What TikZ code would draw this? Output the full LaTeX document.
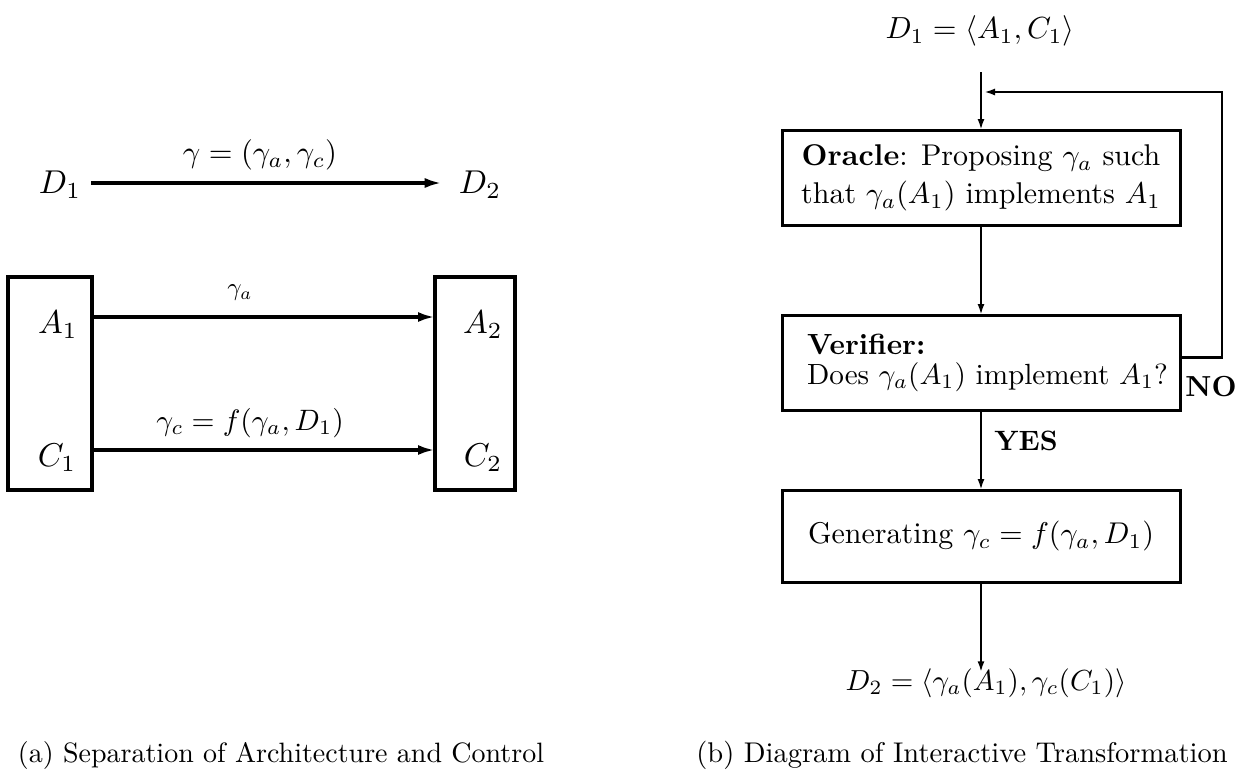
\RequirePackage{fix-cm}
\documentclass[tikz,border=0pt]{standalone}
\usetikzlibrary{arrows.meta,calc}
\newcommand\sz[2]{\scalebox{#1}{#2}}
\begin{document}
\begin{tikzpicture}[x=1pt,y=-1pt,
  txt/.style={inner sep=0pt},
  boxtxt/.style={draw,line width=3pt,minimum width=398pt,inner sep=0pt,outer sep=0pt},
  larr/.style={line width=3.8pt,-{Latex[length=17pt,width=10pt]}},
  rarr/.style={line width=2.8pt,-{Latex[length=11pt,width=7pt]}},
  lbox/.style={draw,line width=3.8pt,inner sep=0pt,outer sep=0pt}]
\useasboundingbox (0,0) rectangle (1243,774);

% ---------- (a) ----------
\node[txt] (D1) at (60,185) {\sz{3.3}{$D_1$}};
\node[txt] (D2) at (480,185) {\sz{3.3}{$D_2$}};
\node[txt] (g) at (260,155) {\sz{3.05}{$\gamma=(\gamma_a,\gamma_c)$}};
\draw[larr] ($(D1.east)+(10,-2)$) -- ($(D2.west)+(-17,-2)$);

\node[lbox,minimum width=84pt,minimum height=213pt] (L) at (50,383.5) {};
\node[lbox,minimum width=80pt,minimum height=213pt] (R) at (475,383.5) {};
\node[txt] (A1) at (58,325) {\sz{3.3}{$A_1$}};
\node[txt] (C1) at (57,458) {\sz{3.3}{$C_1$}};
\node[txt] (A2) at (483,325) {\sz{3.3}{$A_2$}};
\node[txt] (C2) at (483,458) {\sz{3.3}{$C_2$}};
\node[txt] (ga) at (240,293) {\sz{2.5}{$\gamma_a$}};
\node[txt] (gc) at (250,423) {\sz{2.95}{$\gamma_c = f(\gamma_a, D_1)$}};
\draw[larr] ($(L.east |- A1)+(0,-8)$) -- ($(R.west |- A1)+(0,-8)$);
\draw[larr] ($(L.east |- C1)+(0,-8)$) -- ($(R.west |- C1)+(0,-8)$);

\node[txt] (capa) at (281,755) {\sz{2.8}{(a) Separation of Architecture and Control}};

% ---------- (b) ----------
\node[txt] (RD1) at (980,31) {\sz{3.05}{$D_1 = \langle A_1, C_1\rangle$}};
\coordinate (top) at (981,72);
\node[boxtxt,minimum height=95pt] (O) at (981,177.5)
  {\sz{3}{\begin{tabular}{@{}c@{}}\textbf{Oracle}: Proposing $\gamma_a$ such\\[0.6pt]that $\gamma_a(A_1)$ implements $A_1$\end{tabular}}};
\node[boxtxt,minimum height=95pt] (V) at (981,362.5)
  {\hspace*{13pt}\sz{2.92}{\begin{tabular}{@{}l@{}}\textbf{Verifier:}\\[-2pt]Does $\gamma_a(A_1)$ implement $A_1$?\end{tabular}}};
\node[boxtxt,minimum height=92pt] (G) at (981,536)
  {\sz{3}{Generating $\gamma_c = f(\gamma_a, D_1)$}};
\node[txt] (RD2) at (986,683) {\sz{2.9}{$D_2 = \langle\gamma_a(A_1), \gamma_c(C_1)\rangle$}};
\coordinate (fb) at (1222,92);

\draw[rarr] (top) -- (O.north);
\draw[rarr] (O.south) -- (V.north);
\draw[rarr] (V.south) -- (G.north);
\draw[rarr] (G.south) -- ($(RD2.north)+(-5,4)$);
\draw[rarr] ($(V.east)+(0,-5)$) -| (fb) -- ($(top |- fb)+(3,0)$);

\node[txt] (no) at (1211,387) {\sz{2.9}{\textbf{NO}}};
\node[txt] (yes) at (1026,441) {\sz{2.8}{\textbf{YES}}};

\node[txt] (capb) at (962,755) {\sz{2.85}{(b) Diagram of Interactive Transformation}};
\end{tikzpicture}
\end{document}
